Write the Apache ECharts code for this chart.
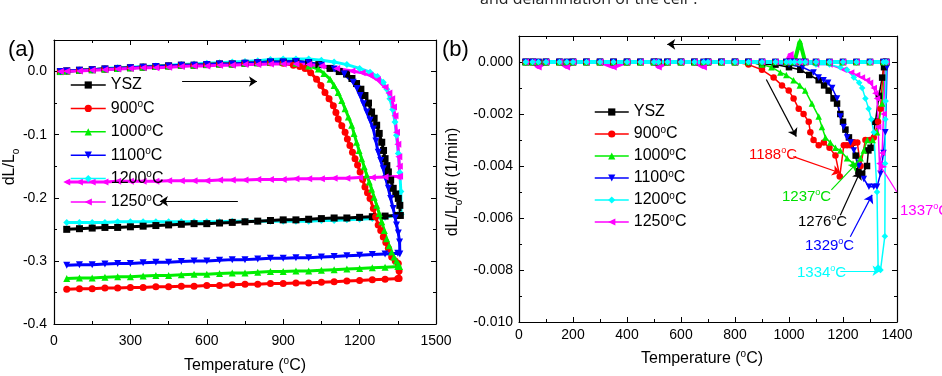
<!DOCTYPE html>
<html><head><meta charset="utf-8">
<script src="https://cdn.jsdelivr.net/npm/echarts@6/dist/echarts.min.js"></script>
<style>html,body{margin:0;padding:0;background:#fff}#c{width:942px;height:376px}</style>
</head><body><div id="c"></div>
<script>
// ---------- DATA ----------
const names = ['YSZ', '900°C', '1000°C', '1100°C', '1200°C', '1250°C'];

// Panel (a): dL/Lo vs T. Heating flat part temps, then per-series decline pairs, then cooling temps.
const heatT_a = [25, 50, 100, 150, 200, 250, 300, 350, 400, 450, 500, 550, 600, 650, 700, 750, 800, 850];
const ysz_a_flat = [0, .001, .002, .003, .004, .005, .006, .007, .008, .009, .010, .010, .011, .012, .012, .013, .014, .015];
const c900_a_flat = [0, .001, .002, .003, .004, .005, .006, .007, .008, .009, .010, .010, .011, .012, .012, .013, .014, .014];
const c1000_a_flat = [0, .001, .002, .003, .004, .005, .006, .007, .008, .009, .010, .010, .011, .012, .012, .013, .014, .015];
const c1100_a_flat = [0, .001, .002, .003, .004, .005, .006, .007, .008, .009, .010, .010, .011, .012, .012, .013, .014, .015];
const c1200_a_flat = [0, .001, .002, .003, .005, .006, .007, .008, .009, .010, .011, .012, .013, .014, .015, .016, .017, .019];
const c1250_a_flat = [0, .0005, .001, .002, .003, .004, .005, .006, .006, .007, .008, .009, .009, .010, .010, .011, .011, .012];

const ysz_a_hot = [[900,0.015],[950,0.016],[1000,0.014],[1040,0.011],[1084,0.005],[1120,0.000],[1149,-0.004],[1170,-0.011],[1188,-0.019],[1205,-0.028],[1221,-0.038],[1235,-0.050],[1247,-0.064],[1257,-0.074],[1267,-0.085],[1277,-0.098],[1287,-0.112],[1294,-0.125],[1300,-0.138],[1307,-0.149],[1313,-0.159],[1322,-0.172],[1332,-0.185],[1342,-0.194],[1352,-0.201],[1358,-0.212],[1360,-0.228]];
const c900_a_hot = [[900,0.013],[940,0.010],[965,0.008],[986,0.005],[1008,-0.002],[1031,-0.012],[1048,-0.022],[1064,-0.033],[1080,-0.043],[1097,-0.054],[1107,-0.065],[1116,-0.075],[1130,-0.086],[1143,-0.096],[1152,-0.107],[1162,-0.117],[1172,-0.128],[1182,-0.138],[1192,-0.148],[1202,-0.159],[1212,-0.171],[1221,-0.183],[1231,-0.192],[1241,-0.201],[1254,-0.217],[1263,-0.230],[1273,-0.243],[1283,-0.252],[1293,-0.262],[1303,-0.271],[1313,-0.280],[1326,-0.294],[1340,-0.300],[1352,-0.304],[1355,-0.316],[1355,-0.328]];
const c1000_a_hot = [[900,0.015],[950,0.013],[1000,0.009],[1038,0.004],[1060,-0.003],[1084,-0.012],[1100,-0.022],[1116,-0.033],[1130,-0.046],[1143,-0.059],[1156,-0.072],[1169,-0.085],[1178,-0.098],[1188,-0.112],[1198,-0.125],[1208,-0.138],[1218,-0.151],[1228,-0.164],[1238,-0.175],[1247,-0.186],[1257,-0.199],[1267,-0.212],[1277,-0.225],[1287,-0.238],[1297,-0.252],[1306,-0.265],[1316,-0.276],[1326,-0.286],[1335,-0.294],[1345,-0.300],[1352,-0.305],[1357,-0.309]];
const c1100_a_hot = [[900,0.015],[950,0.016],[1000,0.014],[1050,0.010],[1100,0.004],[1140,-0.004],[1175,-0.017],[1190,-0.027],[1202,-0.038],[1215,-0.051],[1228,-0.064],[1241,-0.077],[1254,-0.091],[1264,-0.110],[1273,-0.128],[1283,-0.141],[1293,-0.154],[1303,-0.170],[1313,-0.185],[1322,-0.201],[1332,-0.217],[1340,-0.232],[1345,-0.243],[1352,-0.256],[1357,-0.270],[1358,-0.289]];
const c1200_a_hot = [[900,0.020],[950,0.020],[1000,0.020],[1050,0.018],[1100,0.015],[1150,0.011],[1200,0.005],[1241,-0.001],[1270,-0.008],[1293,-0.017],[1307,-0.028],[1319,-0.043],[1330,-0.060],[1339,-0.080],[1345,-0.101],[1352,-0.130],[1358,-0.160],[1362,-0.190],[1363,-0.226]];
const c1250_a_hot = [[900,0.012],[950,0.012],[1000,0.011],[1050,0.009],[1110,0.005],[1170,0.001],[1210,-0.002],[1241,-0.006],[1270,-0.013],[1300,-0.025],[1315,-0.034],[1326,-0.043],[1333,-0.056],[1339,-0.070],[1345,-0.096],[1350,-0.115],[1354,-0.135],[1356,-0.150],[1357,-0.166]];

const coolT_a = [1350, 1300, 1250, 1200, 1150, 1100, 1050, 1000, 950, 900, 850, 800, 750, 700, 650, 600, 550, 500, 450, 400, 350, 300, 250, 200, 150, 100, 50];
const ysz_a_cool = [-.228,-.229,-.230,-.231,-.232,-.232,-.233,-.234,-.235,-.235,-.236,-.237,-.238,-.239,-.240,-.241,-.241,-.242,-.243,-.244,-.245,-.246,-.247,-.247,-.248,-.249,-.250];
const c900_a_cool = [-.328,-.329,-.330,-.331,-.332,-.333,-.334,-.335,-.335,-.336,-.336,-.337,-.337,-.338,-.339,-.339,-.340,-.340,-.341,-.341,-.342,-.342,-.343,-.343,-.344,-.344,-.345];
const c1000_a_cool = [-.309,-.310,-.311,-.312,-.313,-.314,-.315,-.316,-.316,-.317,-.317,-.318,-.319,-.319,-.320,-.321,-.321,-.322,-.323,-.323,-.324,-.325,-.325,-.326,-.327,-.327,-.328];
const c1100_a_cool = [-.288,-.289,-.290,-.291,-.292,-.293,-.294,-.295,-.295,-.296,-.296,-.297,-.298,-.298,-.299,-.300,-.300,-.301,-.302,-.302,-.303,-.304,-.304,-.305,-.306,-.306,-.307];
const c1200_a_cool = [-.227,-.231,-.233,-.234,-.235,-.236,-.236,-.237,-.237,-.237,-.237,-.237,-.237,-.237,-.238,-.238,-.238,-.238,-.238,-.238,-.238,-.238,-.238,-.239,-.239,-.239,-.239];
const c1250_a_cool = [-.167,-.167,-.168,-.168,-.169,-.169,-.170,-.170,-.170,-.171,-.171,-.171,-.172,-.172,-.172,-.173,-.173,-.173,-.173,-.174,-.174,-.174,-.174,-.175,-.175,-.175,-.175];

// Panel (b): dL/Lo/dt vs T.
const heatT_b = [25, 50, 100, 150, 200, 250, 300, 350, 400, 450, 500, 550, 600, 650, 700, 750, 800, 850];
const ysz_b_flat  = [0,0,0,0,0,0,0,0,0,0,0,0,0,0,0,0,0,0];
const c900_b_flat = [0,0,0,0,0,0,0,0,0,0,0,0,0,0,0,0,0,-0.0001];
const c1000_b_flat= [0,0,0,0,0,0,0,0,0,0,0,0,0,0,0,0,0,0];
const c1100_b_flat= [0,0,0,0,0,0,0,0,0,0,0,0,0,0,0,0,0,0];
const c1200_b_flat= [0,0,0,0,0,0,0,0,0,0,0,0,0,0,0,0,0,0];
const c1250_b_flat= [0,0,0,0,0,0,0,0,0,0,0,0,0,0,0,0,0,0];

const ysz_b_hot = [[900,-0.0001],[950,-0.0001],[1000,-0.0002],[1042,-0.0003],[1075,-0.0005],[1110,-0.0007],[1130,-0.0009],[1147,-0.0011],[1165,-0.0014],[1178,-0.0016],[1190,-0.0020],[1200,-0.0023],[1209,-0.0026],[1222,-0.0029],[1234,-0.0031],[1247,-0.0036],[1257,-0.0042],[1271,-0.0043],[1289,-0.0040],[1294,-0.0034],[1302,-0.0033],[1320,-0.0023],[1333,-0.0013],[1345,-0.0006],[1352,-0.0002],[1360,0]];
const c900_b_hot = [[900,-0.0003],[943,-0.0006],[974,-0.0009],[999,-0.0011],[1017,-0.0014],[1036,-0.0018],[1054,-0.0020],[1073,-0.0023],[1079,-0.0027],[1091,-0.0030],[1110,-0.0032],[1129,-0.0031],[1150,-0.0033],[1172,-0.0036],[1188,-0.0044],[1203,-0.0032],[1215,-0.0032],[1228,-0.0032],[1240,-0.0031],[1253,-0.0031],[1265,-0.0040],[1283,-0.0030],[1300,-0.0030],[1314,-0.0029],[1330,-0.0023],[1339,-0.0018],[1351,0]];
const c1000_b_hot = [[900,-0.0001],[935,-0.0002],[968,-0.0004],[990,-0.0005],[1017,-0.0007],[1040,-0.0009],[1060,-0.0011],[1085,-0.0016],[1110,-0.0021],[1122,-0.0025],[1135,-0.0029],[1153,-0.0031],[1172,-0.0033],[1190,-0.0034],[1215,-0.0037],[1237,-0.0039],[1252,-0.0039],[1265,-0.0037],[1277,-0.0034],[1290,-0.0030],[1310,-0.0030],[1326,-0.0027],[1345,-0.0016],[1357,0]];
const c1100_b_hot = [[900,0],[1000,-0.0001],[1050,-0.0002],[1091,-0.0004],[1110,-0.0006],[1128,-0.0007],[1145,-0.0008],[1160,-0.0010],[1178,-0.0014],[1190,-0.0021],[1202,-0.0025],[1215,-0.0029],[1228,-0.0031],[1240,-0.0034],[1259,-0.0040],[1277,-0.0045],[1296,-0.0048],[1314,-0.0048],[1326,-0.0048],[1339,-0.0043],[1350,-0.0035],[1357,-0.0027],[1363,-0.0002]];
const c1200_b_hot = [[900,0],[1000,0],[1100,-0.0001],[1150,-0.0001],[1190,-0.0002],[1215,-0.0003],[1240,-0.0006],[1260,-0.0008],[1271,-0.0010],[1283,-0.0014],[1295,-0.0018],[1305,-0.0022],[1314,-0.0027],[1326,-0.0050],[1330,-0.0079],[1339,-0.0080],[1355,-0.0067],[1356,-0.0039],[1357,-0.0022],[1358,-0.0015],[1360,0]];
const c1250_b_hot = [[900,0],[1000,0],[1100,-0.0001],[1150,-0.0001],[1202,-0.0003],[1230,-0.0004],[1252,-0.0005],[1270,-0.0006],[1289,-0.0007],[1300,-0.0008],[1314,-0.0010],[1320,-0.0012],[1326,-0.0014],[1330,-0.0025],[1335,-0.0039],[1345,-0.0035],[1350,-0.0020],[1357,0]];

const coolT_b = [1360,1350,1300,1250,1200,1150,1100,1060,1040,1020,1005,990,950,900,850,800,750,700,684,650,600,550,517,500,450,400,350,300,250,200,177,150,100,72,50,25];
const ysz_b_cool  = [0,0,0,0,0,0,0,0,0,0,0,0,0,0,0,0,0,0,0,0,0,0,0,0,0,0,0,0,0,0,0,0,0,0,0,0];
const c900_b_cool = [0,0,0,0,0,0,0,0,0,0,0,0,0,0,0,0,0,0,0,0,0,0,0,0,0,0,0,0,0,0,0,0,0,0,0,0];
const c1000_b_cool= [0,0,0,0,0,0,0,0,0.0008,0,0,0,0,0,0,0,0,0,0,0,0,0,0,0,0,0,0,0,0,0,0,0,0,0,0,0];
const c1100_b_cool= [0,0,0,0,0,0,0,0,0,0,0,0,0,0,0,0,0,0,0,0,0,0,0,0,0,0,0,0,0,0,0,0,0,0,0,0];
const c1200_b_cool= [0,0,0,0,0,0,0,0,0,0,0,0,0,0,0,0,0,0,0,0,0,0,0,0,0,0,0,0,0,0,0,0,0,0,0,0];
const c1250_b_cool= [0,0,0,0,0,0,0,0,0,0,0.0003,0,0,0,0,0,0,0,-0.0002,0,0,0,-0.0002,0,0,0,-0.0002,0,0,0,-0.0002,0,0,-0.0002,0,0];

// Axis ticks
const xTicksA = {min: 0, max: 1500, interval: 300};
const yTicksA = {min: -0.4, max: 0.05, interval: 0.1};
const xTicksB = {min: 0, max: 1400, interval: 200};
const yTicksB = {min: -0.010, max: 0.001, interval: 0.002};

// Annotation arrows [from T, from v, to T, to v, colour]
const arrowsA = [[503, -0.0158, 797, -0.0158], [722, -0.2055, 416, -0.2055]];
const arrowsB = [
  [894, 0.00068, 549, 0.00068, '#000'],
  [916, -0.00067, 1027, -0.00287, '#000'],
  [1016, -0.00364, 1190, -0.00427, '#ff0000'],
  [1157, -0.00492, 1252, -0.00388, '#00e000'],
  [1190, -0.00589, 1264, -0.00421, '#000'],
  [1227, -0.00672, 1308, -0.00511, '#0000ff'],
  [1190, -0.00803, 1339, -0.00803, '#00ffff'],
  [1399, -0.00499, 1332, -0.00389, '#ff00ff']
];
const peakLabels = ['1188', '1237', '1276', '1329', '1334', '1337'];

// ---------- BUILD ----------
const FONT = '"Liberation Sans", Arial, sans-serif';
const colors = ['#000000', '#ff0000', '#00ee00', '#0000ff', '#00ffff', '#ff00ff'];
const symbols = ['rect', 'circle', 'triangle', 'triangle', 'diamond', 'triangle'];
const rots = [0, 0, 0, 180, 0, 90];

function pairs(T, v) { return T.map((t, i) => [t, v[i]]); }
const dataA = [
  pairs(heatT_a, ysz_a_flat).concat(ysz_a_hot, pairs(coolT_a, ysz_a_cool)),
  pairs(heatT_a, c900_a_flat).concat(c900_a_hot, pairs(coolT_a, c900_a_cool)),
  pairs(heatT_a, c1000_a_flat).concat(c1000_a_hot, pairs(coolT_a, c1000_a_cool)),
  pairs(heatT_a, c1100_a_flat).concat(c1100_a_hot, pairs(coolT_a, c1100_a_cool)),
  pairs(heatT_a, c1200_a_flat).concat(c1200_a_hot, pairs(coolT_a, c1200_a_cool)),
  pairs(heatT_a, c1250_a_flat).concat(c1250_a_hot, pairs(coolT_a, c1250_a_cool))
];
const heatB = [
  pairs(heatT_b, ysz_b_flat).concat(ysz_b_hot),
  pairs(heatT_b, c900_b_flat).concat(c900_b_hot),
  pairs(heatT_b, c1000_b_flat).concat(c1000_b_hot),
  pairs(heatT_b, c1100_b_flat).concat(c1100_b_hot),
  pairs(heatT_b, c1200_b_flat).concat(c1200_b_hot),
  pairs(heatT_b, c1250_b_flat).concat(c1250_b_hot)
];
const coolB = [
  pairs(coolT_b, ysz_b_cool), pairs(coolT_b, c900_b_cool), pairs(coolT_b, c1000_b_cool),
  pairs(coolT_b, c1100_b_cool), pairs(coolT_b, c1200_b_cool), pairs(coolT_b, c1250_b_cool)
];

function mkSeries(i, data, xi, yi, size, lw) {
  return {
    name: names[i], type: 'line', xAxisIndex: xi, yAxisIndex: yi, data: data,
    symbol: symbols[i], symbolRotate: rots[i], symbolSize: size, showAllSymbol: true,
    itemStyle: {color: colors[i]}, lineStyle: {color: colors[i], width: lw},
    animation: false, silent: true, clip: true
  };
}

const series = [];
// drawing order of panel (a): cyan underneath the others
[4, 0, 1, 2, 3, 5].forEach(i => series.push(mkSeries(i, dataA[i], 0, 0, 7, 3)));
const orderB = [0, 1, 2, 3, 5, 4];
orderB.forEach(i => series.push(mkSeries(i, heatB[i], 2, 2, 6.5, 1.5)));
orderB.forEach(i => series.push(mkSeries(i, coolB[i], 2, 2, 6.5, 4)));

function arrowSeries(list, xi, yi) {
  return {
    type: 'line', xAxisIndex: xi, yAxisIndex: yi, data: [], silent: true, animation: false, clip: false,
    markLine: {
      silent: true, animation: false, symbol: ['none', 'arrow'], symbolSize: 8,
      label: {show: false},
      lineStyle: {type: 'solid', width: 1.2, color: '#000'},
      emphasis: {disabled: true},
      data: list.map(a => [{coord: [a[0], a[1]], lineStyle: {color: a[4] || '#000', type: 'solid', width: 1.2}, itemStyle: {color: a[4] || '#000'}},
                           {coord: [a[2], a[3]], itemStyle: {color: a[4] || '#000'}}])
    }
  };
}
series.push(arrowSeries(arrowsA, 0, 0));
series.push(arrowSeries(arrowsB, 2, 2));

const axLine = {show: true, onZero: false, lineStyle: {color: '#000', width: 1.2}};
function xAx(grid, t, pos, showLabel, margin) {
  return {
    type: 'value', gridIndex: grid, position: pos, min: t.min, max: t.max, interval: t.interval,
    axisLine: axLine, splitLine: {show: false},
    axisTick: {show: true, inside: true, length: 5, lineStyle: {color: '#000'}},
    minorTick: {show: true, splitNumber: 2, length: 3, lineStyle: {color: '#000'}},
    axisLabel: {show: showLabel, fontFamily: FONT, fontSize: 14, color: '#000', margin: margin,
      formatter: v => String(Math.round(v))}
  };
}
function yAx(grid, t, pos, showLabel, dec, margin) {
  return {
    type: 'value', gridIndex: grid, position: pos, min: t.min, max: t.max, interval: t.interval,
    axisLine: axLine, splitLine: {show: false},
    axisTick: {show: true, inside: true, length: 5, lineStyle: {color: '#000'}},
    minorTick: {show: true, splitNumber: 2, length: 3, lineStyle: {color: '#000'}},
    axisLabel: {show: showLabel, showMaxLabel: false, fontFamily: FONT, fontSize: 14, color: '#000', margin: margin,
      formatter: v => (Math.abs(v) < 1e-9 ? 0 : v).toFixed(dec)}
  };
}

const legRich = {
  n: {fontFamily: FONT, fontSize: 16, color: '#000', lineHeight: 18},
  s: {fontFamily: FONT, fontSize: 10, color: '#000', lineHeight: 18, verticalAlign: 'top'}
};
function legFmt(name) {
  if (name === 'YSZ') return '{n|YSZ}';
  return '{n|' + name.replace('°C', '') + '}{s|o}{n|C}';
}
function legend(left, top, gap, w) {
  return {
    orient: 'vertical', left: left, top: top, itemWidth: w, itemHeight: 9, itemGap: gap,
    data: names, formatter: legFmt, selectedMode: false,
    textStyle: {rich: legRich, fontSize: 16, lineHeight: 18, padding: [0, 0, 0, 0]},
    lineStyle: {width: 1.5}
  };
}

function supText(pre, post) {
  return '{n|' + pre + '}{s|o}{n|' + post + '}';
}
function richFor(size, color) {
  return {
    n: {fontFamily: FONT, fontSize: size, fill: color, lineHeight: size + 3},
    s: {fontFamily: FONT, fontSize: Math.round(size * 0.62), fill: color, lineHeight: size + 3, verticalAlign: 'top'},
    b: {fontFamily: FONT, fontSize: Math.round(size * 0.62), fill: color, lineHeight: size + 7, verticalAlign: 'bottom'}
  };
}
function gText(x, y, text, size, color, align, rot) {
  return {
    type: 'text', x: x, y: y, rotation: rot || 0, silent: true,
    style: {text: text, rich: richFor(size, color), fill: color, fontFamily: FONT, fontSize: size,
            align: align || 'left', verticalAlign: 'middle'}
  };
}
const labelColors = ['#ff0000', '#00e000', '#000000', '#0000ff', '#00ffff', '#ff00ff'];
const labelPos = [[797, 155, 'right'], [782, 197, 'left'], [798, 222, 'left'], [805, 246, 'left'], [797, 273, 'left'], [900, 211, 'left']];

const graphics = [
  {type: 'text', x: 480, y: 7, silent: true, style: {text: 'and delamination of the cell⁵.', fontFamily: '"Open Sans", "Liberation Sans", sans-serif', fontSize: 16, fill: '#222', verticalAlign: 'bottom'}},
  gText(8, 50, '{n|(a)}', 22, '#000', 'left'),
  gText(442, 50, '{n|(b)}', 22, '#000', 'left'),
  gText(10, 167, '{n|dL/L}{b|o}', 16, '#000', 'center', Math.PI / 2),
  gText(453, 182, '{n|dL/L}{b|o}{n|/dt (1/min)}', 16, '#000', 'center', Math.PI / 2),
  gText(245, 366, supText('Temperature (', 'C)'), 16, '#000', 'center'),
  gText(702, 359, supText('Temperature (', 'C)'), 16, '#000', 'center')
];
peakLabels.forEach((p, i) => {
  graphics.push(gText(labelPos[i][0], labelPos[i][1], supText(p, 'C'), 15, labelColors[i], labelPos[i][2]));
});

const option = {
  backgroundColor: '#fff',
  animation: false,
  grid: [
    {left: 54, top: 40, width: 382, height: 284},
    {left: 519, top: 36, width: 378, height: 286}
  ],
  xAxis: [xAx(0, xTicksA, 'bottom', true, 10), xAx(0, xTicksA, 'top', false, 8),
          xAx(1, xTicksB, 'bottom', true, 6), xAx(1, xTicksB, 'top', false, 8)],
  yAxis: [yAx(0, yTicksA, 'left', true, 1, 7), yAx(0, yTicksA, 'right', false, 1, 7),
          yAx(1, yTicksB, 'left', true, 3, 6), yAx(1, yTicksB, 'right', false, 3, 6)],
  legend: [legend(65, 71, 5.4, 35), legend(589, 98, 4, 34)],
  series: series,
  graphic: graphics
};
const chart = echarts.init(document.getElementById('c'), null, {renderer: 'canvas'});
chart.setOption(option);
</script></body></html>
